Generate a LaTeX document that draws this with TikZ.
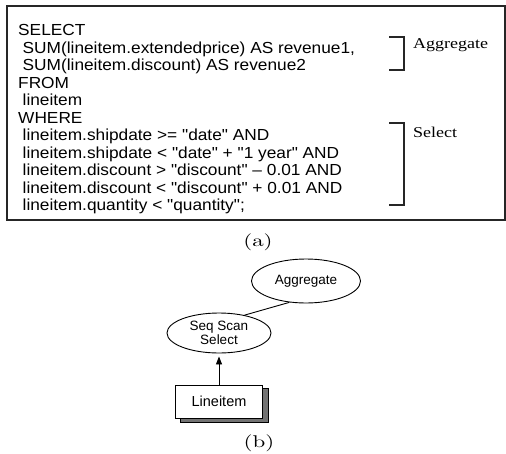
\documentclass[tikz,border=0pt]{standalone}
\usepackage{fontspec}
\usepackage{graphicx}
\newfontfamily\codefont{Liberation Sans}[FakeStretch=1.08]
\newfontfamily\treefont{Liberation Sans}
\newfontfamily\notefont{Liberation Serif}[FakeStretch=1.2]
\newfontfamily\capfont{lmroman10-regular.otf}
\newcommand{\widecap}[1]{\scalebox{1.35}[1]{#1}}
\usetikzlibrary{shapes.geometric,arrows.meta,backgrounds}

\begin{document}
\begin{tikzpicture}[x=1pt,y=-1pt,
  codeline/.style={anchor=base west, inner sep=0pt, font=\codefont\fontsize{16}{17}\selectfont},
  note/.style={anchor=base west, inner sep=0pt, font=\notefont\fontsize{15}{17}\selectfont},
  caption/.style={anchor=base, inner sep=0pt, font=\capfont\fontsize{17}{19}\selectfont},
  frame/.style={draw=black!85, line width=1.6pt},
  bracket/.style={draw=black!85, line width=1.3pt},
  oval/.style={ellipse, draw, line width=0.9pt, inner sep=0pt, align=center,
    font=\treefont\fontsize{13.5}{12.5}\selectfont},
  tablebox/.style={rectangle, draw, line width=0.9pt, fill=white, inner sep=0pt,
    minimum width=87pt, minimum height=33pt, font=\treefont\fontsize{14.5}{16}\selectfont},
  shadowbox/.style={draw, line width=0.9pt, fill=black!55},
  edge/.style={draw, line width=0.9pt},
  flow/.style={draw, line width=0.9pt, -{Triangle[length=8pt,width=6pt]}, shorten >=3pt}
]
\useasboundingbox (0,0) rectangle (506,453);

% SQL query in its frame
\draw[frame] (7,6) rectangle (505,220);
\node[codeline] (l1)  at (18,35.5)  {SELECT};
\node[codeline] (l2)  at (22.5,53)  {SUM(lineitem.extendedprice) AS revenue1,};
\node[codeline] (l3)  at (22.5,70.5) {SUM(lineitem.discount) AS revenue2};
\node[codeline] (l4)  at (18,88)    {FROM};
\node[codeline] (l5)  at (22.5,105.5) {lineitem};
\node[codeline] (l6)  at (18,123)   {WHERE};
\node[codeline] (l7)  at (22.5,140.5) {lineitem.shipdate >= "date" AND};
\node[codeline] (l8)  at (22.5,158) {lineitem.shipdate < "date" + "1 year" AND};
\node[codeline] (l9)  at (22.5,175.5) {lineitem.discount > "discount" – 0.01 AND};
\node[codeline] (l10) at (22.5,193) {lineitem.discount < "discount" + 0.01 AND};
\node[codeline] (l11) at (22.5,210.5) {lineitem.quantity < "quantity";};

% brackets grouping the clauses
\draw[bracket] (389,37) -| (404,70) -- (389,70);
\draw[bracket] (389,123) -| (404,205) -- (389,205);
\node[note] (aggnote) at (413,48) {Aggregate};
\node[note] (selnote) at (413,137) {Select};

\node[caption] (capa) at (258,246) {\widecap{(a)}};

% operator tree
\node[oval, minimum width=109pt, minimum height=44pt] (agg) at (306,281) {Aggregate};
\node[oval, minimum width=104pt, minimum height=40pt] (seq) at (219,333) {Seq Scan\\Select};
\node[tablebox] (li) at (219,401.5) {Lineitem};
\begin{scope}[on background layer]
  \path[shadowbox] ([xshift=5pt,yshift=-4pt]li.south west) rectangle ([xshift=5pt,yshift=-4pt]li.north east);
\end{scope}
\path[edge] (seq.35) -- (agg.232);
\path[flow] (li.north) -- (seq.south);

\node[caption] (capb) at (259,447) {\widecap{(b)}};
\end{tikzpicture}
\end{document}
